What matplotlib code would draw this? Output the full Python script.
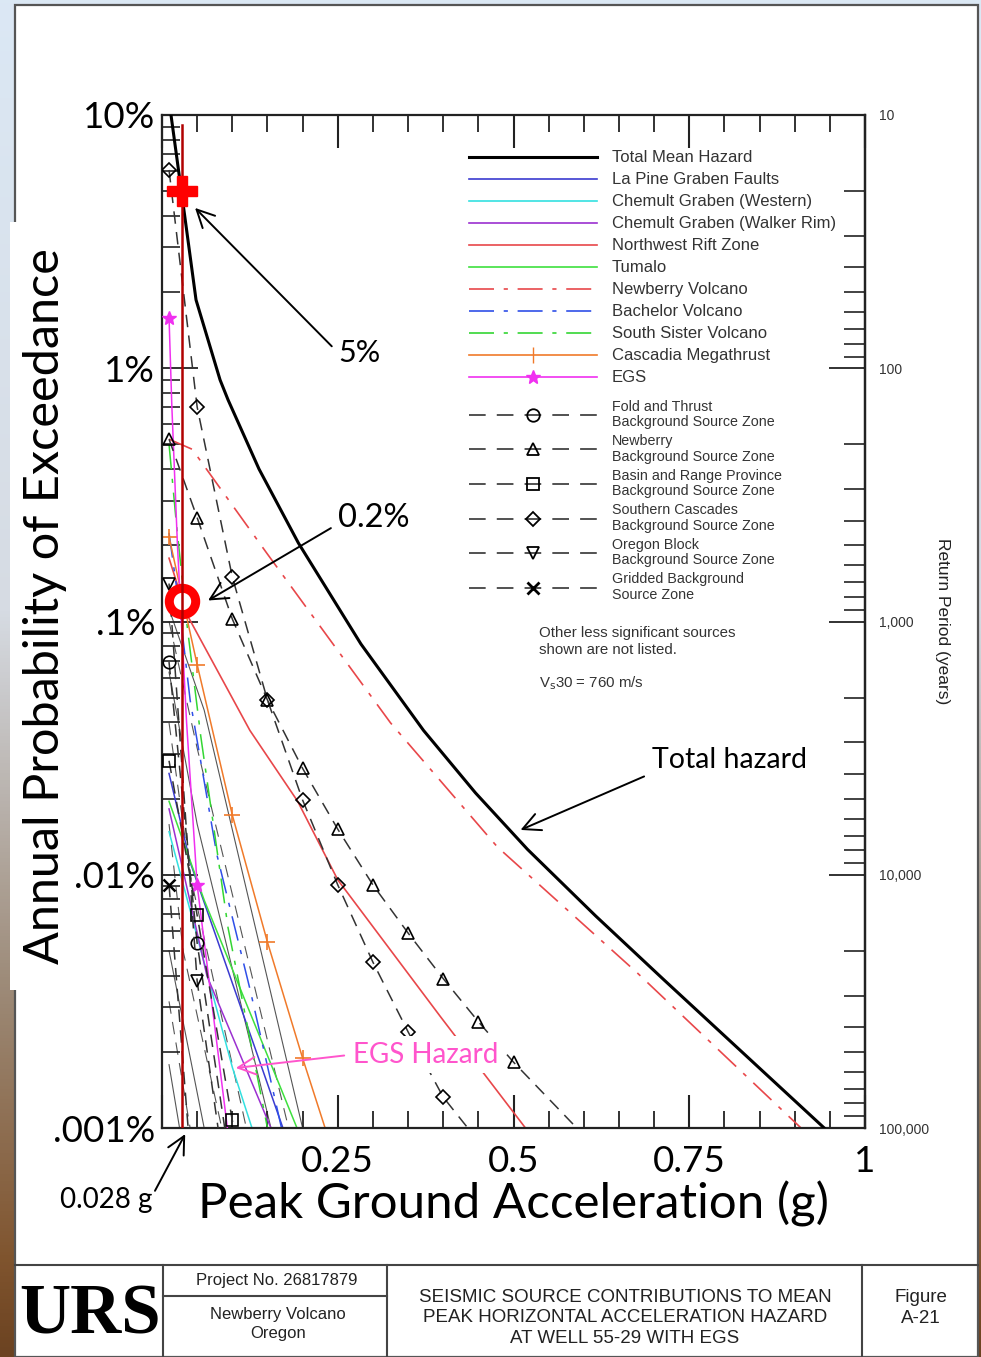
import numpy as np
import matplotlib
matplotlib.use("Agg")
import matplotlib.pyplot as plt
from matplotlib.lines import Line2D
from matplotlib.patches import Rectangle
from matplotlib.ticker import FixedLocator, MultipleLocator, LogLocator, NullFormatter

plt.rcParams['lines.scale_dashes'] = False

# ---- hazard curves: PGA (g) and log10(annual prob. of exceedance) ----
total_pga = [0.0128, 0.0285, 0.0484, 0.0826, 0.094, 0.138, 0.194, 0.283, 0.372, 0.446,
             0.52, 0.617, 0.714, 0.942]
total_logp = [-1.0, -1.32, -1.73, -2.046, -2.125, -2.398, -2.69, -3.089, -3.43, -3.677,
              -3.90, -4.163, -4.415, -5.0]

lapine_pga = [0.01, 0.04, 0.172]
lapine_logp = [-3.6, -3.95, -5.0]
chem_w_pga = [0.01, 0.1, 0.128]
chem_w_logp = [-3.83, -4.76, -5.0]
walker_pga = [0.01, 0.064, 0.155]
walker_logp = [-3.74, -4.4, -5.0]
nwrift_pga = [0.01, 0.035, 0.125, 0.193, 0.25, 0.396, 0.517]
nwrift_logp = [-2.75, -2.97, -3.43, -3.71, -4.02, -4.56, -5.0]
tumalo_pga = [0.01, 0.06, 0.192]
tumalo_logp = [-3.71, -4.1, -5.0]
newberry_pga = [0.01, 0.043, 0.149, 0.325, 0.477, 0.677, 0.909]
newberry_logp = [-2.28, -2.32, -2.73, -3.40, -3.89, -4.39, -5.0]
bachelor_pga = [0.01, 0.025, 0.04, 0.078, 0.125, 0.17]
bachelor_logp = [-2.65, -2.95, -3.31, -3.92, -4.45, -5.0]
sister_pga = [0.01, 0.02, 0.035, 0.055, 0.094, 0.15]
sister_logp = [-2.3, -2.6, -3.0, -3.45, -4.21, -5.0]
cascadia_pga = [0.01, 0.05, 0.10, 0.15, 0.20, 0.232]
cascadia_logp = [-2.666, -3.17, -3.764, -4.266, -4.724, -5.0]
egs_pga = [0.01, 0.014, 0.022, 0.035, 0.05, 0.093]
egs_logp = [-1.80, -2.15, -2.7, -3.4, -4.04, -5.0]

fold_pga = [0.01, 0.05, 0.10]
fold_logp = [-3.16, -4.27, -5.2]
nbg_pga = [0.01, 0.05, 0.10, 0.15, 0.20, 0.25, 0.30, 0.35, 0.40, 0.45, 0.50, 0.59]
nbg_logp = [-2.28, -2.59, -2.99, -3.31, -3.58, -3.82, -4.04, -4.23, -4.41, -4.58, -4.74, -5.0]
basin_pga = [0.01, 0.05, 0.10, 0.11]
basin_logp = [-3.55, -4.16, -4.97, -5.1]
scasc_pga = [0.01, 0.05, 0.10, 0.15, 0.20, 0.25, 0.30, 0.35, 0.40, 0.435]
scasc_logp = [-1.217, -2.153, -2.824, -3.31, -3.705, -4.04, -4.345, -4.62, -4.878, -5.0]
oregon_pga = [0.01, 0.05, 0.09]
oregon_logp = [-2.85, -4.42, -5.2]
gridded_pga = [0.01, 0.04]
gridded_logp = [-4.04, -5.1]

# other, less significant sources (thin grey)
other_pga = [[0.01, 0.06, 0.20], [0.01, 0.05, 0.18], [0.01, 0.05, 0.155], [0.01, 0.04, 0.12],
             [0.01, 0.03, 0.085], [0.01, 0.06], [0.01, 0.04], [0.01, 0.025]]
other_logp = [[-2.95, -3.35, -5.0], [-3.0, -3.5, -5.0], [-3.2, -3.8, -5.0], [-3.4, -4.0, -5.0],
              [-3.8, -4.3, -5.0], [-4.3, -5.0], [-4.5, -5.0], [-4.75, -5.0]]
other_dashed = [False, True, False, True, True, False, True, False]

# highlighted points at 0.028 g
mark_pga = 0.028
cross_prob = 0.05
circle_prob = 0.0012

prob_ticks = [1e-5, 1e-4, 1e-3, 1e-2, 1e-1]
prob_labels = ['.001%', '.01%', '.1%', '1%', '10%']
pga_ticks = [0, 0.25, 0.5, 0.75, 1.0]
pga_labels = ['', '0.25', '0.5', '0.75', '1']
rp_ticks = [10, 100, 1000, 10000, 100000]
rp_labels = ['10', '100', '1,000', '10,000', '100,000']

W, H = 981, 1357
fig = plt.figure(figsize=(W / 100, H / 100), dpi=100)


def fx(px):
    return px / W


def fy(py):
    return 1 - py / H


# slide background behind the page (sky on top, brown at the bottom)
bg = fig.add_axes([0, 0, 1, 1], zorder=-10)
bg.axis('off')
stops = [0, 0.45, 0.72, 0.93, 1.0]
cols = np.array([[0.86, 0.91, 0.96], [0.84, 0.86, 0.89], [0.62, 0.55, 0.48],
                 [0.50, 0.33, 0.18], [0.42, 0.26, 0.13]])
yy = np.linspace(0, 1, 400)
grad = np.stack([np.interp(yy, stops, cols[:, k]) for k in range(3)], axis=-1)[:, None, :]
bg.imshow(grad, aspect='auto', extent=[0, 1, 0, 1], origin='upper')

# page frame + title block
fig.add_artist(Rectangle((fx(15), 0), fx(978) - fx(15), fy(5), transform=fig.transFigure,
                         facecolor='white', edgecolor='#555555', lw=1.6, zorder=-5))
tb = dict(color='#444444', lw=1.5, transform=fig.transFigure, zorder=-3)
fig.add_artist(Line2D([fx(15), fx(978)], [fy(1265), fy(1265)], **tb))
for xv in [163, 387, 862]:
    fig.add_artist(Line2D([fx(xv), fx(xv)], [fy(1265), 0], **tb))
fig.add_artist(Line2D([fx(163), fx(387)], [fy(1296), fy(1296)], **tb))

sans = 'Liberation Sans'
fig.text(fx(277), fy(1280), 'Project No. 26817879', ha='center', va='center',
         fontsize=12, family=sans, color='#222222')
fig.text(fx(278), fy(1324), 'Newberry Volcano\nOregon', ha='center', va='center',
         fontsize=12, family=sans, color='#222222', linespacing=1.4)
fig.text(fx(625), fy(1318), 'SEISMIC SOURCE CONTRIBUTIONS TO MEAN\nPEAK HORIZONTAL ACCELERATION HAZARD\nAT WELL 55-29 WITH EGS',
         ha='center', va='center', fontsize=13.5, family=sans, color='#222222', linespacing=1.3)
fig.text(fx(921), fy(1308), 'Figure\nA-21', ha='center', va='center', fontsize=13.5,
         family=sans, color='#222222', linespacing=1.3)
fig.text(fx(90), fy(1316), 'URS', ha='center', va='center', fontsize=51,
         family='Liberation Serif', fontweight='bold', color='black')

# ---- main axes ----
ax = fig.add_axes([fx(162), fy(1128), fx(865) - fx(162), fy(115) - fy(1128)])
ax.set_yscale('log')
ax.set_xlim(0, 1)
ax.set_ylim(1e-5, 1e-1)

DASH = (0, (9, 6))
DASHDOT = (0, (18, 7, 3, 7))
c_lapine, c_cyan, c_purple = '#3b3bd0', '#33e0e0', '#9b30d0'
c_red, c_green, c_orange, c_mag = '#e8474a', '#3ee03e', '#f07a2a', '#f030f0'
c_bach, c_sister = '#2f4fe8', '#33d633'
c_bk = '#333333'


def P(v):
    return 10.0 ** np.asarray(v)


for pg, lp, dsh in zip(other_pga, other_logp, other_dashed):
    ax.plot(pg, P(lp), color='#555555', lw=0.8, ls=DASH if dsh else '-', zorder=1)

ax.plot(lapine_pga, P(lapine_logp), color=c_lapine, lw=1.1, zorder=2)
ax.plot(chem_w_pga, P(chem_w_logp), color=c_cyan, lw=1.1, zorder=2)
ax.plot(walker_pga, P(walker_logp), color=c_purple, lw=1.1, zorder=2)
ax.plot(nwrift_pga, P(nwrift_logp), color=c_red, lw=1.2, zorder=2)
ax.plot(tumalo_pga, P(tumalo_logp), color=c_green, lw=1.1, zorder=2)
ax.plot(newberry_pga, P(newberry_logp), color=c_red, lw=1.2, ls=DASHDOT, zorder=2)
ax.plot(bachelor_pga, P(bachelor_logp), color=c_bach, lw=1.1, ls=DASHDOT, zorder=2)
ax.plot(sister_pga, P(sister_logp), color=c_sister, lw=1.1, ls=DASHDOT, zorder=2)
ax.plot(cascadia_pga, P(cascadia_logp), color=c_orange, lw=1.1, marker='+', ms=11, mew=1.2,
        markevery=slice(0, 5), zorder=2)
ax.plot(egs_pga, P(egs_logp), color=c_mag, lw=1.1, marker='*', ms=10, markevery=[0, 4], zorder=3)

mk = dict(color=c_bk, lw=1.1, ls=DASH, mfc='none', mec='black', mew=1.2, ms=9, zorder=3)
ax.plot(fold_pga, P(fold_logp), marker='o', markevery=slice(0, 2), **mk)
ax.plot(nbg_pga, P(nbg_logp), marker='^', markevery=slice(0, 11), **mk)
ax.plot(basin_pga, P(basin_logp), marker='s', markevery=slice(0, 3), **mk)
ax.plot(scasc_pga, P(scasc_logp), marker='D', markevery=slice(0, 9), **dict(mk, ms=7.5))
ax.plot(oregon_pga, P(oregon_logp), marker='v', markevery=slice(0, 2), **mk)
ax.plot(gridded_pga, P(gridded_logp), marker='x', markevery=[0], **dict(mk, mew=1.8))

ax.plot(total_pga, P(total_logp), color='black', lw=2.2, zorder=4)

# red highlights at 0.028 g
ax.plot(mark_pga, circle_prob, 'o', ms=19, mfc='white', mec='#ff0000', mew=6.5, zorder=6)
ax.axvline(mark_pga, ymax=0.99, color='#b00000', lw=1.8, zorder=7)
ax.plot(mark_pga, cross_prob, marker='P', ms=21, color='#ff0000', mec='#ff0000', zorder=8)

arr = dict(arrowstyle='->,head_length=0.7,head_width=0.35', color='black', lw=1.4,
           mutation_scale=18, shrinkA=4, shrinkB=0)
lato = 'Lato'
ax.annotate('5%', xy=(0.047, 10 ** -1.367), xytext=(0.251, 10 ** -1.94), fontsize=22,
            family=lato, va='center', ha='left', arrowprops=dict(arr, relpos=(0, 0.5)))
ax.annotate('0.2%', xy=(0.0655, 10 ** -2.917), xytext=(0.251, 10 ** -2.59), fontsize=23.5,
            family=lato, va='center', ha='left', arrowprops=dict(arr, relpos=(0, 0.3)))
ax.annotate('Total hazard', xy=(0.51, 10 ** -3.823), xytext=(0.697, 10 ** -3.547), fontsize=20.5,
            family=lato, va='center', ha='left', arrowprops=dict(arr, relpos=(0, 0.0)))
ax.annotate('EGS Hazard', xy=(0.105, 10 ** -4.763), xytext=(0.271, 10 ** -4.71), fontsize=20,
            family=lato, va='center', ha='left', color='#ff55cc',
            bbox=dict(facecolor='white', edgecolor='none', pad=4),
            arrowprops=dict(arr, color='#ff55cc', relpos=(0, 0.5), shrinkA=2), zorder=9)

# 0.028 g arrow below the axis
ax.annotate('', xy=(0.033, -0.006), xycoords=('data', 'axes fraction'),
            xytext=(-0.01, -0.062), textcoords=('data', 'axes fraction'),
            arrowprops=dict(arr, shrinkA=0), annotation_clip=False)
ax.text(-0.014, -0.071, '0.028 g', transform=ax.transAxes, ha='right', va='center',
        fontsize=20, family=lato)

# ---- ticks ----
for sp in ax.spines.values():
    sp.set_linewidth(1.6)
    sp.set_color('#222222')
ax.xaxis.set_major_locator(FixedLocator(pga_ticks))
ax.xaxis.set_minor_locator(MultipleLocator(0.05))
ax.set_xticklabels(pga_labels, family=lato)
ax.tick_params(axis='x', which='both', direction='in', top=True, bottom=True, color='#222222')
ax.tick_params(axis='x', which='major', length=24, width=1.5, labelsize=26.5, pad=12)
ax.tick_params(axis='x', which='minor', length=12, width=1.3)

ax.yaxis.set_major_locator(FixedLocator(prob_ticks))
ax.yaxis.set_minor_locator(LogLocator(base=10, subs=np.arange(2, 10), numticks=20))
ax.yaxis.set_minor_formatter(NullFormatter())
ax.set_yticklabels(prob_labels, family=lato)
ax.tick_params(axis='y', which='both', direction='in', left=True, right=False, color='#222222')
ax.tick_params(axis='y', which='major', length=26, width=1.3, labelsize=26.5, pad=5)
ax.tick_params(axis='y', which='minor', length=13, width=1.2)


def inv(v):
    v = np.asarray(v, dtype=float)
    with np.errstate(divide='ignore'):
        return 1.0 / v


sec = ax.secondary_yaxis('right', functions=(inv, inv))
sec.set_yticks(rp_ticks)
sec.set_yticklabels(rp_labels)
sec.yaxis.set_minor_locator(LogLocator(base=10, subs=np.arange(2, 10), numticks=20))
sec.yaxis.set_minor_formatter(NullFormatter())
sec.tick_params(which='both', direction='in', color='#222222', labelsize=10,
                labelcolor='#333333', pad=10)
sec.tick_params(which='major', length=26, width=1.3)
sec.tick_params(which='minor', length=15, width=1.2)
sec.spines['right'].set_linewidth(1.6)
for lab in sec.get_yticklabels():
    lab.set_family(sans)
sec.set_ylabel('Return Period (years)', rotation=-90, va='bottom', fontsize=12.5,
               family=sans, color='#222222', labelpad=4)

# ---- legends ----
h1 = [Line2D([], [], color='black', lw=2.2),
      Line2D([], [], color=c_lapine, lw=1.2),
      Line2D([], [], color=c_cyan, lw=1.2),
      Line2D([], [], color=c_purple, lw=1.2),
      Line2D([], [], color=c_red, lw=1.2),
      Line2D([], [], color=c_green, lw=1.2),
      Line2D([], [], color=c_red, lw=1.2, ls=DASHDOT),
      Line2D([], [], color=c_bach, lw=1.2, ls=DASHDOT),
      Line2D([], [], color=c_sister, lw=1.2, ls=DASHDOT),
      Line2D([], [], color=c_orange, lw=1.2, marker='|', ms=11),
      Line2D([], [], color=c_mag, lw=1.2, marker='*', ms=10)]
l1 = ['Total Mean Hazard', 'La Pine Graben Faults', 'Chemult Graben (Western)',
      'Chemult Graben (Walker Rim)', 'Northwest Rift Zone', 'Tumalo', 'Newberry Volcano',
      'Bachelor Volcano', 'South Sister Volcano', 'Cascadia Megathrust', 'EGS']
leg1 = ax.legend(h1, l1, loc='upper left', bbox_to_anchor=(0.436, 0.965), frameon=False,
                 prop={'family': sans, 'size': 12}, handlelength=7.7,
                 handletextpad=0.9, labelspacing=0.42, borderpad=0, borderaxespad=0,
                 labelcolor='#333333')
ax.add_artist(leg1)

lg = dict(color=c_bk, lw=1.2, ls=(0, (12, 8)), mfc='none', mec='black', mew=1.3, ms=9)
h2 = [Line2D([], [], marker='o', **lg), Line2D([], [], marker='^', **lg),
      Line2D([], [], marker='s', **lg), Line2D([], [], marker='D', **dict(lg, ms=7.5)),
      Line2D([], [], marker='v', **lg), Line2D([], [], marker='x', **dict(lg, mew=2))]
l2 = ['Fold and Thrust\nBackground Source Zone', 'Newberry\nBackground Source Zone',
      'Basin and Range Province\nBackground Source Zone', 'Southern Cascades\nBackground Source Zone',
      'Oregon Block\nBackground Source Zone', 'Gridded Background\nSource Zone']
leg2 = ax.legend(h2, l2, loc='upper left', bbox_to_anchor=(0.436, 0.719), frameon=False,
                 prop={'family': sans, 'size': 10.3}, handlelength=8.95,
                 handletextpad=1.1, labelspacing=0.34, borderpad=0, borderaxespad=0,
                 labelcolor='#333333')
for t in leg2.get_texts():
    t.set_linespacing(1.15)

ax.text(0.536, 0.48, 'Other less significant sources\nshown are not listed.', transform=ax.transAxes,
        fontsize=10.8, family=sans, color='#333333', va='center', linespacing=1.3)
ax.text(0.536, 0.439, r'V$_{\mathrm{s}}$30 = 760 m/s', transform=ax.transAxes,
        fontsize=10.8, family=sans, color='#333333', va='center')

# ---- axis titles (slide overlay style) ----
ax.set_xlabel('Peak Ground Acceleration (g)', fontsize=35.5, family=lato, labelpad=2)
fig.add_artist(Rectangle((fx(10), fy(990)), fx(80) - fx(10), fy(222) - fy(990),
                         transform=fig.transFigure, facecolor='white', edgecolor='none', zorder=-4))
fig.text(fx(45), fy(606), 'Annual Probability of Exceedance', rotation=90, ha='center',
         va='center', fontsize=35, family=lato)

fig.savefig('out.png', dpi=100)
